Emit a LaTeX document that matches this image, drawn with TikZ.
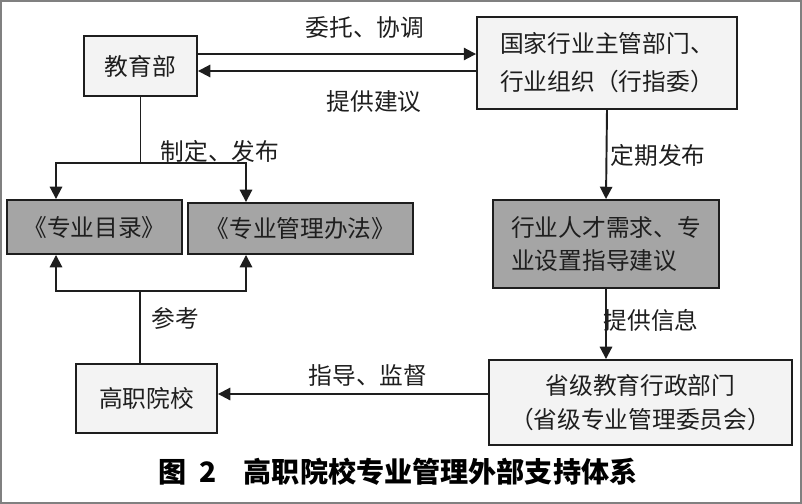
\documentclass[tikz,border=0pt]{standalone}
\usepackage{fontspec}
\setmainfont{Noto Sans CJK SC}
\usepackage{tikz}
\usetikzlibrary{arrows.meta,positioning}
\definecolor{lightbox}{RGB}{243,243,243}
\definecolor{darkbox}{RGB}{165,165,165}
\definecolor{ink}{RGB}{30,30,30}

\begin{document}
\begin{tikzpicture}
  [x=0.02cm,y=-0.02cm,
   every node/.style={font=\fontsize{13.5}{19}\selectfont,text=ink},
   box/.style={draw=ink,line width=1.1pt,fill=lightbox,inner sep=0pt},
   grey/.style={box,fill=darkbox},
   ln/.style={draw=ink,line width=1.1pt},
   arr/.style={ln,-{Triangle[length=7pt,width=7pt]}}]
  \useasboundingbox (0,0) rectangle (802,504);
  \draw[gray,line width=1pt] (1,1) rectangle (801,503);

  \node[box,minimum width=2.26cm,minimum height=1.2cm] (moe) at (140.5,66) {教育部};
  \node[box,minimum width=5.2cm,minimum height=1.84cm,align=left,
        font=\fontsize{13.5}{21.6}\selectfont] (hy) at (607,63)
        {国家行业主管部门、\\行业组织（行指委）};
  \node[grey,minimum width=3.5cm,minimum height=1.08cm] (ml) at (94.5,227) {《专业目录》};
  \node[grey,minimum width=4.5cm,minimum height=1.02cm] (bf) at (300.5,228.5) {《专业管理办法》};
  \node[grey,minimum width=4.52cm,minimum height=1.76cm,align=left] (xq) at (606,244)
        {行业人才需求、专\\业设置指导建议};
  \node[box,minimum width=2.82cm,minimum height=1.38cm] (gz) at (146.5,398.5) {高职院校};
  \node[box,minimum width=6.06cm,minimum height=1.7cm,align=center] (sj) at (640.5,402.5)
        {省级教育行政部门\\（省级专业管理委员会）};

  \coordinate (fork) at (moe.south |- 0,163);
  \coordinate (join) at (140,291);

  \draw[arr] (moe.east |- 0,54) -- (hy.west |- 0,54);
  \draw[arr] (hy.west |- 0,71) -- (moe.east |- 0,71);
  \draw[ln] (moe.south) -- (fork);
  \draw[arr] (fork) -| (ml.north -| 56,0);
  \draw[arr] (fork) -| (bf.north -| 246,0);
  \draw[ln] (gz.north -| join) -- (join);
  \draw[arr] (join) -| (ml.south -| 56,0);
  \draw[arr] (join) -| (bf.south -| 246,0);
  \draw[arr] (hy.south) -- (xq.north);
  \draw[arr] (xq.south) -- (sj.north -| xq.south);
  \draw[arr] (sj.west |- 0,394) -- (gz.east |- 0,394);

  \node (l1) at (365,27) {委托、协调};
  \node (l2) at (374,102) {提供建议};
  \node (l3) at (220,151) {制定、发布};
  \node (l4) at (175,318) {参考};
  \node (l5) at (658,155) {定期发布};
  \node (l6) at (651,320) {提供信息};
  \node (l7) at (368,375) {指导、监督};

  \node[font=\fontsize{16}{20}\selectfont\bfseries,text=black] (cap) at (398,472)
        {图\hspace{0.25cm}2\hspace{0.55cm}高职院校专业管理外部支持体系};
\end{tikzpicture}
\end{document}
